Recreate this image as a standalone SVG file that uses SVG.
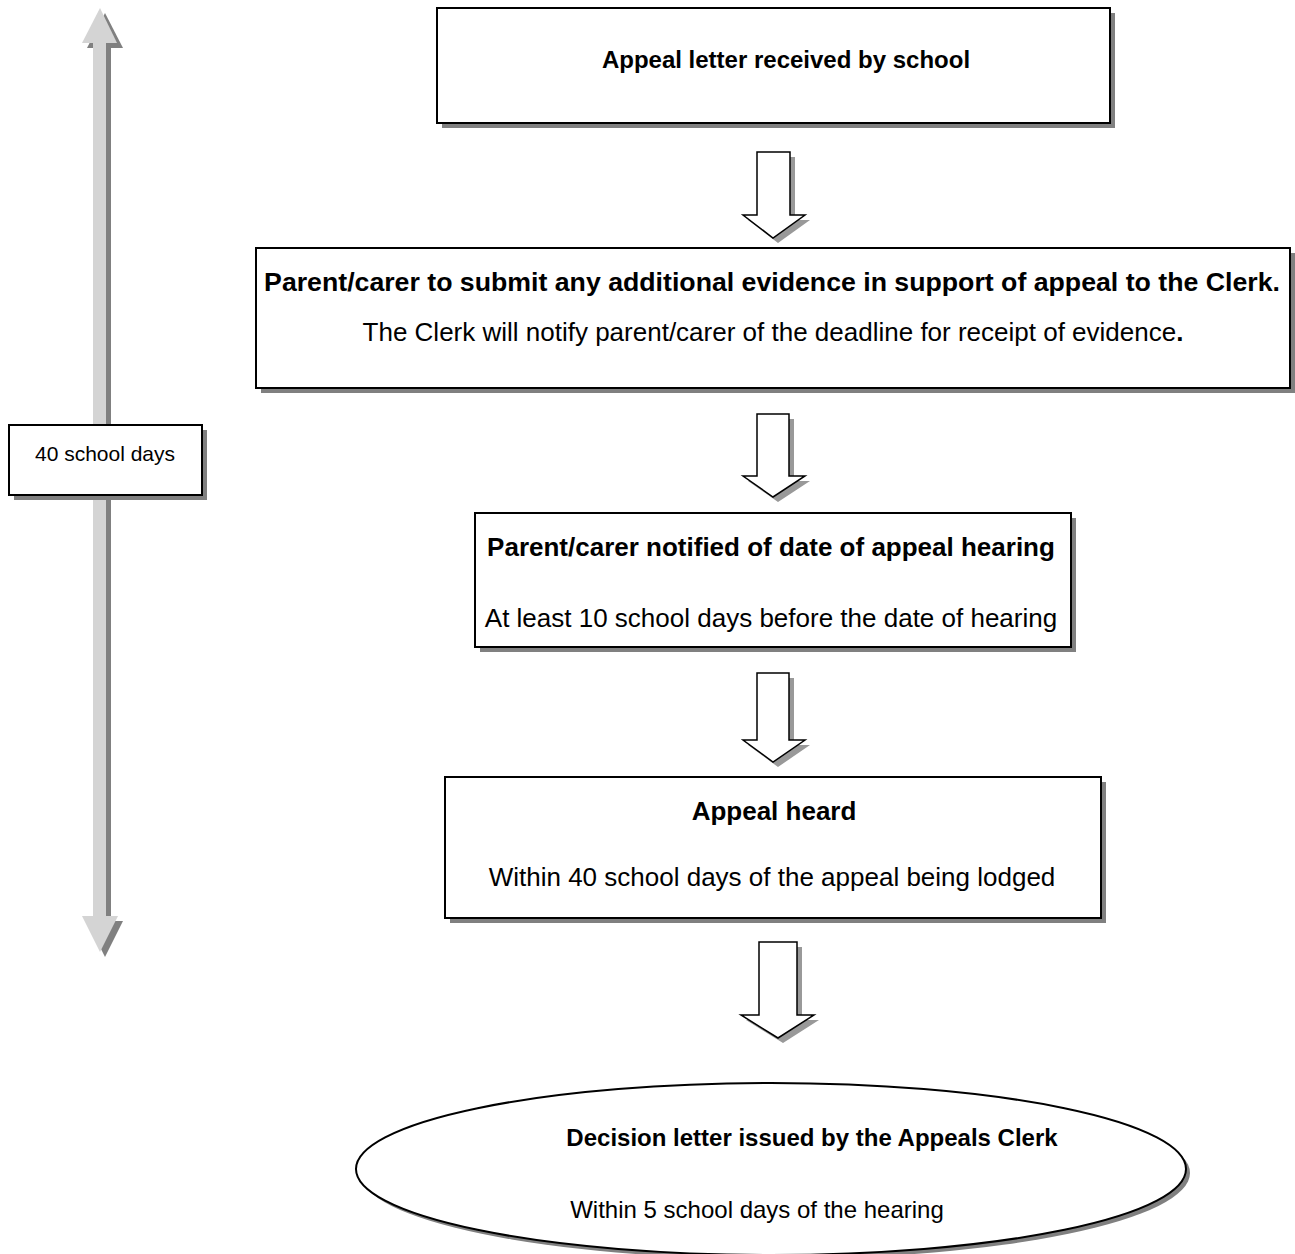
<svg xmlns="http://www.w3.org/2000/svg" width="1295" height="1254" viewBox="0 0 1295 1254">
<style>
.box{fill:#fff;stroke:#000;stroke-width:2}
.sh{fill:#808080}
.arr{fill:#fff;stroke:#000;stroke-width:1.5;stroke-linejoin:miter}
.ash{fill:#999}
text{font-family:"Liberation Sans",Arial,sans-serif;fill:#000;text-anchor:middle}
.b{font-weight:bold;font-size:26px}
.r{font-size:26px}
</style>
<rect width="1295" height="1254" fill="#fff"/>
<g id="timeline">
<path class="sh" d="M111,48 H98 V921 H111 Z"/>
<polygon class="sh" points="105,13 87,48 123,48"/>
<polygon class="sh" points="105,957 87,921 123,921"/>
<rect x="93" y="43" width="13" height="873" fill="#d4d4d4"/>
<polygon points="100,8 82,43 117,43" fill="#d4d4d4"/>
<polygon points="100,952 82,916 118,916" fill="#d4d4d4"/>
<rect class="sh" x="14" y="430" width="193" height="70"/>
<rect class="box" x="9" y="425" width="193" height="70"/>
<text x="105" y="461" style="font-size:21px">40 school days</text>
</g>
<g id="connectors">
<polygon class="ash" points="762,157 795,157 795,220 810,220 778,243 748,220 762,220"/>
<polygon class="arr" points="757,152 790,152 790,215 805,215 773,238 743,215 757,215"/>
<polygon class="ash" points="762,419 794,419 794,481 810,481 778,502 748,481 762,481"/>
<polygon class="arr" points="757,414 789,414 789,476 805,476 773,497 743,476 757,476"/>
<polygon class="ash" points="762,678 794,678 794,745 810,745 778,767 748,745 762,745"/>
<polygon class="arr" points="757,673 789,673 789,740 805,740 773,762 743,740 757,740"/>
<polygon class="ash" points="764,947 802,947 802,1020 819,1020 783,1043 746,1020 764,1020"/>
<polygon class="arr" points="759,942 797,942 797,1015 814,1015 778,1038 741,1015 759,1015"/>
</g>
<g id="n1">
<rect class="sh" x="442" y="13" width="673" height="115"/>
<rect class="box" x="437" y="8" width="673" height="115"/>
<text class="b" x="786" y="68" style="font-size:24px">Appeal letter received by school</text>
</g>
<g id="n2">
<rect class="sh" x="261" y="253" width="1034" height="140"/>
<rect class="box" x="256" y="248" width="1034" height="140"/>
<text class="b" x="772" y="291" style="font-size:26.7px">Parent/carer to submit any additional evidence in support of appeal to the Clerk.</text>
<text class="r" x="773" y="341">The Clerk will notify parent/carer of the deadline for receipt of evidence<tspan font-weight="bold">.</tspan></text>
</g>
<g id="n3">
<rect class="sh" x="480" y="518" width="596" height="134"/>
<rect class="box" x="475" y="513" width="596" height="134"/>
<text class="b" x="771" y="556">Parent/carer notified of date of appeal hearing</text>
<text class="r" x="771" y="627">At least 10 school days before the date of hearing</text>
</g>
<g id="n4">
<rect class="sh" x="450" y="782" width="656" height="141"/>
<rect class="box" x="445" y="777" width="656" height="141"/>
<text class="b" x="774" y="820">Appeal heard</text>
<text class="r" x="772" y="886">Within 40 school days of the appeal being lodged</text>
</g>
<g id="n5">
<ellipse class="sh" cx="775" cy="1173" rx="415" ry="86"/>
<ellipse class="box" cx="771" cy="1169" rx="415" ry="86"/>
<text class="b" x="812" y="1146" style="font-size:24px">Decision letter issued by the Appeals Clerk</text>
<text class="r" x="757" y="1218" style="font-size:24px">Within 5 school days of the hearing</text>
</g>
</svg>
